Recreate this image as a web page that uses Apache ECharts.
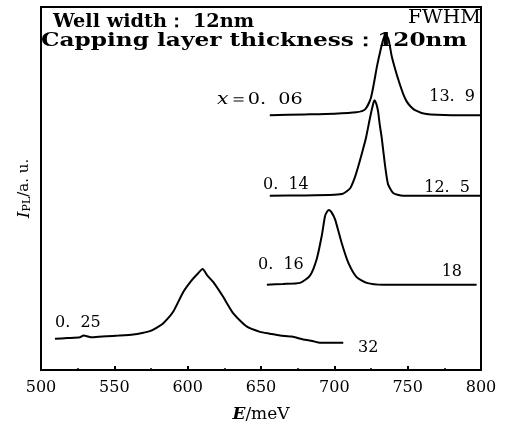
<!DOCTYPE html>
<html>
<head>
    <meta charset="utf-8"/>
    <title>PL spectra</title>
    <script src="https://cdn.jsdelivr.net/npm/echarts@6/dist/echarts.min.js"></script>
    <style>
        html, body { margin: 0; padding: 0; background: #fff; }
    </style>
</head>
<body>

<div id="main" style="width: 510px;height:428px;"></div>

<script>
    // 曲线数据 (E/meV, 相对强度)
    var xTicks = [500, 550, 600, 650, 700, 750, 800];

    var e006 = [656, 680, 700, 715, 721, 724.8, 727, 729.1, 731.6, 733.5, 735.2, 737, 739.1, 741.4, 744.1, 747, 749.3, 752, 755, 761.8, 780, 800];
    var i006 = [70.2, 70.4, 70.6, 71.0, 71.8, 74.8, 79.0, 83.7, 88.3, 91.2, 92.4, 91.0, 86.5, 83.0, 79.4, 76.0, 74.0, 72.6, 71.6, 70.6, 70.2, 70.2];

    var e014 = [656, 680, 700, 706, 710.7, 713.5, 716.1, 719, 721.6, 724.3, 726, 727.3, 728.5, 729.8, 731, 732.3, 734.5, 736.6, 740, 743, 747, 770, 800];
    var i014 = [48.0, 48.1, 48.3, 48.6, 50.0, 52.5, 55.8, 60.0, 64.0, 69.4, 72.5, 74.3, 73.5, 71.3, 67.5, 64.0, 56.6, 51.2, 48.8, 48.3, 48.0, 48.0, 48.0];

    var e016 = [654, 665, 676.6, 683.4, 688, 691.4, 693.6, 695, 696.4, 698, 700.5, 705, 709.5, 715.2, 722.1, 733.2, 760, 797];
    var i016 = [23.5, 23.7, 24.0, 26.0, 30.6, 36.9, 42.3, 43.6, 44.1, 43.5, 41.5, 35.0, 29.6, 25.6, 24.0, 23.5, 23.5, 23.5];

    var e025 = [509.5, 518, 526.6, 529, 535, 544.8, 553, 562.9, 569, 574.3, 579, 583.4, 590.2, 597, 602.7, 607, 610.2, 613.5, 617.5, 624.3, 631.1, 640.2, 649.3, 656, 663, 671, 678.8, 685, 690.2, 698, 706.1];
    var i025 = [8.6, 8.8, 9.0, 9.5, 9.0, 9.3, 9.5, 9.8, 10.2, 10.7, 11.7, 12.9, 16.1, 21.5, 24.7, 26.6, 27.8, 26.0, 24.2, 20.1, 15.6, 12.0, 10.5, 10.0, 9.5, 9.2, 8.4, 8.0, 7.5, 7.5, 7.5];

    var seriesNames = ['0.06', '0.14', '0.16', '0.25'];

    function pairs(xs, ys) {
        var out = [];
        for (var i = 0; i < xs.length; i++) out.push([xs[i], ys[i]]);
        return out;
    }

    var serif = '"DejaVu Serif", "Liberation Serif", serif';

    function label(text, x, y, opt) {
        opt = opt || {};
        return {
            type: 'text',
            x: x,
            y: y,
            scaleX: opt.sx || 1,
            style: {
                text: text,
                fill: '#000',
                font: (opt.font || '16px') + ' ' + serif,
                textAlign: opt.align || 'left',
                textVerticalAlign: 'middle'
            },
            z: 100
        };
    }

    var myChart = echarts.init(document.getElementById('main'));

    var lineStyle = { color: '#000', width: 2 };

    var option = {
        animation: false,
        backgroundColor: '#fff',
        grid: {
            left: 41, right: 29, top: 7, bottom: 52,
            show: true,
            borderColor: '#000',
            borderWidth: 2
        },
        xAxis: {
            type: 'value',
            min: 500,
            max: 800,
            interval: 50,
            name: '{e|E}/meV',
            nameLocation: 'middle',
            nameGap: 36,
            nameTextStyle: {
                color: '#000',
                fontFamily: serif,
                fontSize: 17,
                rich: {
                    e: { fontFamily: serif, fontSize: 17, fontWeight: 'bold', fontStyle: 'italic', color: '#000' }
                }
            },
            axisLine: { lineStyle: { color: '#000', width: 2 } },
            axisTick: { inside: true, length: 4, lineStyle: { color: '#000', width: 2 } },
            minorTick: { show: true, splitNumber: 2, length: 2, lineStyle: { color: '#000', width: 1.5 } },
            splitLine: { show: false },
            axisLabel: {
                color: '#000',
                fontFamily: serif,
                fontSize: 16,
                margin: 10,
                customValues: xTicks
            }
        },
        yAxis: {
            type: 'value',
            min: 0,
            max: 100,
            name: '{i|I}{s|PL}/a. u.',
            nameLocation: 'middle',
            nameRotate: 90,
            nameGap: 8,
            nameTextStyle: {
                color: '#000',
                fontFamily: serif,
                fontSize: 15,
                rich: {
                    i: { fontFamily: serif, fontSize: 17, fontStyle: 'italic', color: '#000' },
                    s: { fontFamily: serif, fontSize: 11, color: '#000', padding: [6, 0, 0, 0] }
                }
            },
            axisLine: { show: true, lineStyle: { color: '#000', width: 2 } },
            axisTick: { show: false },
            axisLabel: { show: false },
            splitLine: { show: false }
        },
        series: [
            { name: seriesNames[0], type: 'line', data: pairs(e006, i006) },
            { name: seriesNames[1], type: 'line', data: pairs(e014, i014) },
            { name: seriesNames[2], type: 'line', data: pairs(e016, i016) },
            { name: seriesNames[3], type: 'line', data: pairs(e025, i025) }
        ].map(function (s) {
            s.showSymbol = false;
            s.symbol = 'none';
            s.smooth = 0.2;
            s.lineStyle = lineStyle;
            return s;
        }),
        graphic: [
            label('Well width： 12nm', 53, 22, { font: 'bold 18px', sx: 1.07 }),
            label('Capping layer thickness：120nm', 41, 41, { font: 'bold 18px', sx: 1.29 }),
            label('FWHM', 481, 18, { font: '18px', align: 'right', sx: 1.12 }),
            {
                type: 'text', x: 217, y: 100, z: 100, scaleX: 1.2,
                style: {
                    text: '{v|x}＝0.  06',
                    fill: '#000',
                    font: '16px ' + serif,
                    textVerticalAlign: 'middle',
                    rich: { v: { fontStyle: 'italic', fontFamily: serif, fontSize: 17 } }
                }
            },
            label('13.  9', 475, 97, { align: 'right' }),
            label('0.  14', 263, 185),
            label('12.  5', 470, 188, { align: 'right' }),
            label('0.  16', 258, 265),
            label('18', 462, 272, { align: 'right' }),
            label('0.  25', 55, 323),
            label('32', 358, 348)
        ]
    };

    myChart.setOption(option);
</script>
</body>
</html>
